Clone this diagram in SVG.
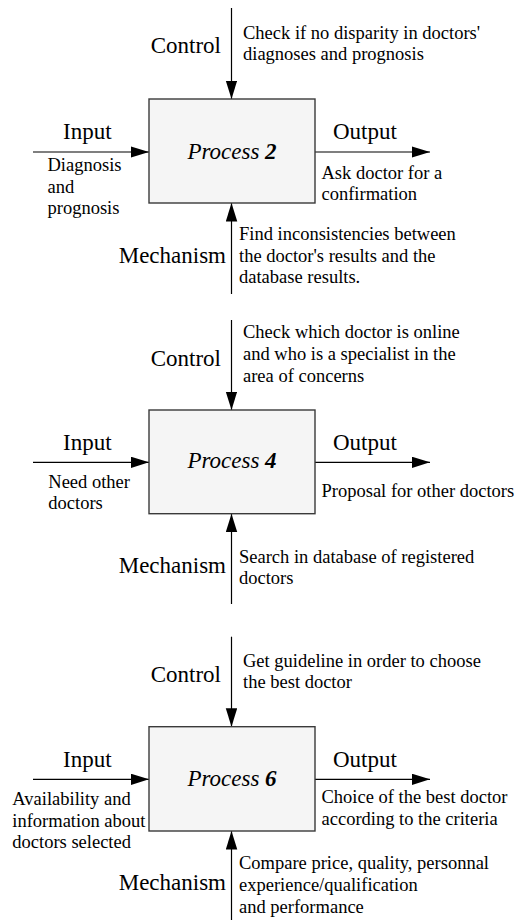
<svg xmlns="http://www.w3.org/2000/svg" width="515" height="920" viewBox="0 0 515 920">
<defs>
<marker id="ah" markerUnits="userSpaceOnUse" markerWidth="19" markerHeight="12" refX="18.5" refY="5.75" orient="auto">
<path d="M0,0 L18.5,5.75 L0,11.5 z" fill="#000"/>
</marker>
</defs>
<rect width="515" height="920" fill="#fff"/>

<g id="connectors" stroke="#000" stroke-width="1.2" fill="none" marker-end="url(#ah)">
<line x1="231.5" y1="8" x2="231.5" y2="99"/>
<line x1="33" y1="152" x2="149" y2="152"/>
<line x1="315" y1="152" x2="430" y2="152"/>
<line x1="231.5" y1="294" x2="231.5" y2="203"/>

<line x1="231.5" y1="320" x2="231.5" y2="410"/>
<line x1="33" y1="462.3" x2="149" y2="462.3"/>
<line x1="315" y1="462.3" x2="430" y2="462.3"/>
<line x1="231.5" y1="604" x2="231.5" y2="513.7"/>

<line x1="231.5" y1="636.7" x2="231.5" y2="726.7"/>
<line x1="33" y1="779.3" x2="149" y2="779.3"/>
<line x1="315" y1="779.3" x2="430" y2="779.3"/>
<line x1="231.5" y1="920" x2="231.5" y2="831"/>
</g>

<g id="process2" fill="#000">
<rect x="149" y="99" width="166" height="104" fill="#f5f5f5" stroke="#3a3a3a" stroke-width="1.4"/>
<text font-family="Times New Roman" font-size="23" font-style="italic" x="232" y="159" text-anchor="middle">Process <tspan font-weight="bold">2</tspan></text>
<text font-family="Times New Roman" font-size="23" x="221" y="53" text-anchor="end">Control</text>
<text font-family="Times New Roman" font-size="18.5"><tspan x="243" y="39">Check if no disparity in doctors'</tspan><tspan x="243" y="60">diagnoses and prognosis</tspan></text>
<text font-family="Times New Roman" font-size="23" x="63" y="139">Input</text>
<text font-family="Times New Roman" font-size="18.5"><tspan x="47.5" y="171">Diagnosis</tspan><tspan x="47.5" y="192.5">and</tspan><tspan x="47.5" y="213.5">prognosis</tspan></text>
<text font-family="Times New Roman" font-size="23" x="333" y="139">Output</text>
<text font-family="Times New Roman" font-size="18.5"><tspan x="321.5" y="179">Ask doctor for a</tspan><tspan x="321.5" y="200">confirmation</tspan></text>
<text font-family="Times New Roman" font-size="23" x="226" y="263" text-anchor="end">Mechanism</text>
<text font-family="Times New Roman" font-size="18.5"><tspan x="239" y="240">Find inconsistencies between</tspan><tspan x="239" y="262">the doctor's results and the</tspan><tspan x="239" y="283">database results.</tspan></text>
</g>

<g id="process4" fill="#000">
<rect x="149" y="410" width="166" height="103.7" fill="#f5f5f5" stroke="#3a3a3a" stroke-width="1.4"/>
<text font-family="Times New Roman" font-size="23" font-style="italic" x="232" y="468.3" text-anchor="middle">Process <tspan font-weight="bold">4</tspan></text>
<text font-family="Times New Roman" font-size="23" x="221" y="366" text-anchor="end">Control</text>
<text font-family="Times New Roman" font-size="18.5"><tspan x="243" y="338.3">Check which doctor is online</tspan><tspan x="243" y="360">and who is a specialist in the</tspan><tspan x="243" y="381.7">area of concerns</tspan></text>
<text font-family="Times New Roman" font-size="23" x="63" y="450">Input</text>
<text font-family="Times New Roman" font-size="18.5"><tspan x="48.3" y="488.3">Need other</tspan><tspan x="48.3" y="509.3">doctors</tspan></text>
<text font-family="Times New Roman" font-size="23" x="333" y="450">Output</text>
<text font-family="Times New Roman" font-size="18.5" x="321.5" y="496.7">Proposal for other doctors</text>
<text font-family="Times New Roman" font-size="23" x="226" y="573.3" text-anchor="end">Mechanism</text>
<text font-family="Times New Roman" font-size="18.5"><tspan x="239" y="563.3">Search in database of registered</tspan><tspan x="239" y="584.3">doctors</tspan></text>
</g>

<g id="process6" fill="#000">
<rect x="149" y="726.7" width="166" height="104.3" fill="#f5f5f5" stroke="#3a3a3a" stroke-width="1.4"/>
<text font-family="Times New Roman" font-size="23" font-style="italic" x="232" y="786" text-anchor="middle">Process <tspan font-weight="bold">6</tspan></text>
<text font-family="Times New Roman" font-size="23" x="221" y="681.7" text-anchor="end">Control</text>
<text font-family="Times New Roman" font-size="18.5"><tspan x="243" y="667.3">Get guideline in order to choose</tspan><tspan x="243" y="688.3">the best doctor</tspan></text>
<text font-family="Times New Roman" font-size="23" x="63" y="766.7">Input</text>
<text font-family="Times New Roman" font-size="18.5"><tspan x="12.3" y="805">Availability and</tspan><tspan x="12.3" y="826.7">information about</tspan><tspan x="12.3" y="848.3">doctors selected</tspan></text>
<text font-family="Times New Roman" font-size="23" x="333" y="766.7">Output</text>
<text font-family="Times New Roman" font-size="18.5"><tspan x="321.5" y="802.7">Choice of the best doctor</tspan><tspan x="321.5" y="825">according to the criteria</tspan></text>
<text font-family="Times New Roman" font-size="23" x="226" y="890" text-anchor="end">Mechanism</text>
<text font-family="Times New Roman" font-size="18.5"><tspan x="239" y="869.3">Compare price, quality, personnal</tspan><tspan x="239" y="891">experience/qualification</tspan><tspan x="239" y="913.3">and performance</tspan></text>
</g>
</svg>
